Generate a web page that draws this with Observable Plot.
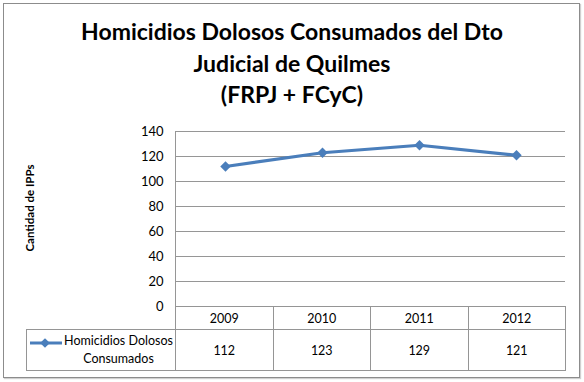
<!DOCTYPE html>
<html><head><meta charset="utf-8">
<script src="https://cdn.jsdelivr.net/npm/d3@7"></script>
<script src="https://cdn.jsdelivr.net/npm/@observablehq/plot@0.6"></script>
<style>
html,body{margin:0;padding:0;background:#fff;}
#wrap{position:relative;width:584px;height:382px;overflow:hidden;font-family:Lato,"DejaVu Sans",sans-serif;color:#000;}
#border{position:absolute;left:3px;top:3px;width:575px;height:373px;border:1px solid #8c8c8c;box-shadow:1px 1px 1px #d0d0d0;}
#title{position:absolute;left:0;top:16px;width:584px;text-align:center;font-weight:bold;font-size:23px;line-height:31.5px;}
#chart{position:absolute;left:0;top:120px;}
#table{position:absolute;left:26px;top:306px;border-collapse:collapse;font-size:12.5px;table-layout:fixed;}
#table td{border:1px solid #959595;text-align:center;vertical-align:middle;padding:0;}
#table td.blank{border:none;}
#table tr.head td{height:22px;}
#table tr.vals td{height:40px;}
.leg{display:flex;align-items:center;height:40px;}
.leg svg{flex:none;margin-left:3px;margin-top:-14px;}
.leg span{flex:1;text-align:center;line-height:18px;}
</style>
</head><body>
<div id="wrap">
  <div id="border"></div>
  <div id="title"></div>
  <div id="chart"></div>
  <table id="table"></table>
</div>
<script>
const titleLines = ["Homicidios Dolosos Consumados del Dto", "Judicial de Quilmes", "(FRPJ + FCyC)"];
const years = ["2009", "2010", "2011", "2012"];
const values = [112, 123, 129, 121];
const yTicks = [0, 20, 40, 60, 80, 100, 120, 140];
const yLabel = "Cantidad de IPPs";
const seriesName = ["Homicidios Dolosos", "Consumados"];
const lineColor = "#4a7ebb";
const gridColor = "#969696";

document.getElementById("title").innerHTML = titleLines.join("<br>");

const data = years.map((y, i) => ({year: y, value: values[i]}));

const chart = Plot.plot({
  width: 584,
  height: 196,
  marginTop: 11,
  marginBottom: 10,
  marginLeft: 175,
  marginRight: 19,
  style: {fontFamily: "Lato, sans-serif", fontSize: "13px", color: "#000", background: "transparent"},
  x: {type: "point", domain: years, padding: 0.5, axis: null},
  y: {domain: [0, 140], ticks: yTicks, label: null},
  marks: [
    Plot.ruleY(yTicks, {stroke: gridColor, strokeWidth: 1, strokeOpacity: 1}),
    Plot.frame({anchor: "left", stroke: gridColor}),
    Plot.axisY(yTicks, {tickSize: 0, tickPadding: 12, label: null, fill: "#000", fontSize: 13}),
    Plot.text([yLabel], {frameAnchor: "left", textAnchor: "middle", lineAnchor: "middle", rotate: -90, dx: -145, dy: -11, fontWeight: "bold", fontSize: 11.5, fill: "#000"}),
    Plot.line(data, {x: "year", y: "value", stroke: lineColor, strokeWidth: 3.2}),
    Plot.dot(data, {x: "year", y: "value", symbol: "diamond2", r: 4.7, fill: lineColor, stroke: null})
  ]
});
document.getElementById("chart").appendChild(chart);

// data table under the chart
const table = d3.select("#table");
const cg = table.append("colgroup");
cg.append("col").style("width", "149px");
years.forEach(() => cg.append("col").style("width", "97.5px"));
const head = table.append("tr").attr("class", "head");
head.append("td").attr("class", "blank");
years.forEach(y => head.append("td").text(y));
const row = table.append("tr").attr("class", "vals");
const legCell = row.append("td").append("div").attr("class", "leg");
const ls = legCell.append("svg").attr("width", 32).attr("height", 12);
ls.append("line").attr("x1", 0).attr("x2", 32).attr("y1", 6).attr("y2", 6).attr("stroke", lineColor).attr("stroke-width", 3);
ls.append("path").attr("transform", "translate(15,6)").attr("d", d3.symbol(d3.symbolDiamond2, 60)()).attr("fill", lineColor);
legCell.append("span").html(seriesName.join("<br>"));
values.forEach(v => row.append("td").text(v));
</script>
</body></html>
